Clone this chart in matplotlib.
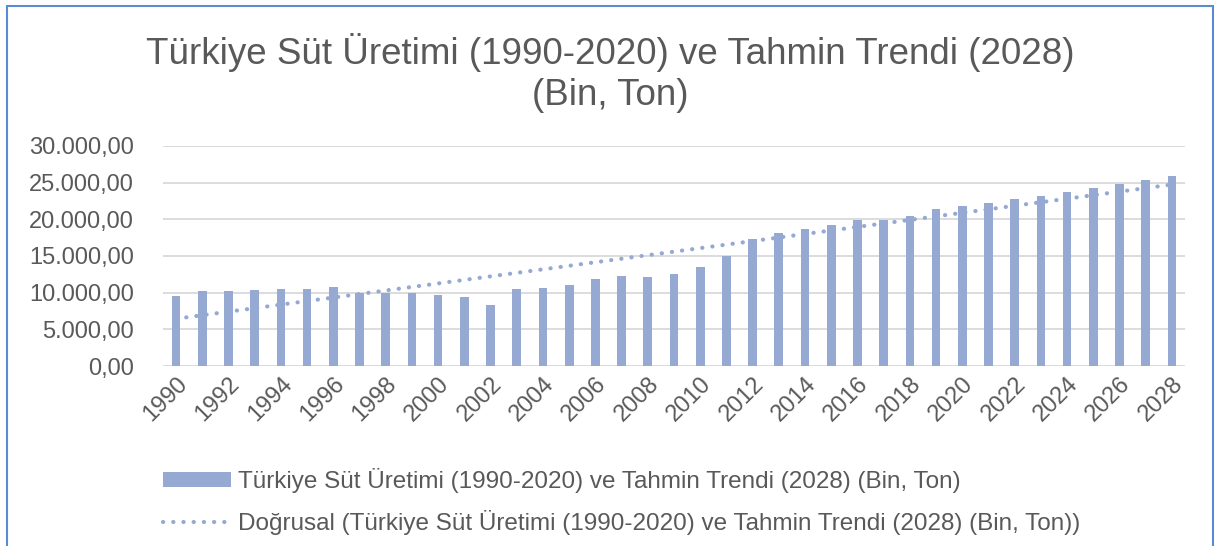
import numpy as np
import matplotlib
matplotlib.use("Agg")
import matplotlib.pyplot as plt
from matplotlib.lines import Line2D
from matplotlib.patches import Patch, Rectangle
from matplotlib.ticker import FuncFormatter

years = list(range(1990, 2029))
production = [9560, 10200, 10240, 10380, 10510, 10510, 10740, 10020, 9930, 10020,
              9740, 9470, 8380, 10510, 10650, 11060, 11870, 12280, 12190, 12510,
              13500, 15000, 17310, 18130, 18630, 19220, 19850, 19940, 20490, 21350,
              21750, 22250, 22750, 23200, 23750, 24250, 24790, 25330, 25880]
tick_labels = [str(y) if (y - 1990) % 2 == 0 else "" for y in years]

title = "Türkiye Süt Üretimi (1990-2020) ve Tahmin Trendi (2028)\n(Bin, Ton)"
series_name = "Türkiye Süt Üretimi (1990-2020) ve Tahmin Trendi (2028) (Bin, Ton)"
trend_name = "Doğrusal (Türkiye Süt Üretimi (1990-2020) ve Tahmin Trendi (2028) (Bin, Ton))"

bar_color = "#95A9D2"
text_color = "#595959"
grid_color = "#D9D9D9"
dots = (0, (0.05, 2.4))

plt.rcParams['font.family'] = ['Liberation Sans', 'DejaVu Sans']

fig = plt.figure(figsize=(12.2, 5.46), dpi=100)
W, H = 1220, 546
ax = fig.add_axes([163 / W, 1 - 366 / H, (1185 - 163) / W, (366 - 146) / H])

x = np.arange(len(years))
ax.bar(x, production, width=0.33, color=bar_color, zorder=2)
coef = np.polyfit(x, production, 1)
trend = np.polyval(coef, x)
ax.plot(x, trend, linestyle=dots, linewidth=3.0, color=bar_color,
        dash_capstyle='round', zorder=3)

ax.set_xlim(-0.5, len(years) - 0.5)
ax.set_ylim(0, 30000)
ax.set_yticks(np.arange(0, 30001, 5000))
ax.yaxis.set_major_formatter(FuncFormatter(
    lambda v, p: f"{v:,.2f}".replace(",", "X").replace(".", ",").replace("X", ".")))
ax.set_xticks(x)
ax.set_xticklabels(tick_labels, rotation=45, ha='right', rotation_mode='anchor')
ax.tick_params(axis='both', length=0, colors=text_color, labelsize=17)
ax.tick_params(axis='y', pad=21)
ax.tick_params(axis='x', pad=5)
ax.grid(axis='y', color=grid_color, linewidth=1.3, zorder=0)
for s in ax.spines.values():
    s.set_visible(False)

fig.text(0.5, 1 - 73 / H, title, ha='center', va='center', fontsize=26.5,
         color=text_color, linespacing=1.25)

handles = [Patch(facecolor=bar_color, edgecolor='none'),
           Line2D([0], [0], color=bar_color, linestyle=dots, linewidth=3.0,
                  dash_capstyle='round')]
fig.legend(handles, [series_name, trend_name], loc='upper left',
           bbox_to_anchor=(141 / W, 1 - 446 / H), frameon=False, fontsize=17.5,
           labelcolor=text_color, handlelength=2.8, handleheight=0.55,
           handletextpad=0.3, labelspacing=0.7)

fig.add_artist(Rectangle((7 / W, -0.05), (1213 - 7) / W, 1.05 - 6 / H,
                         transform=fig.transFigure, fill=False,
                         edgecolor="#5B8BD0", linewidth=1.5))

fig.savefig("out.png", dpi=100)
